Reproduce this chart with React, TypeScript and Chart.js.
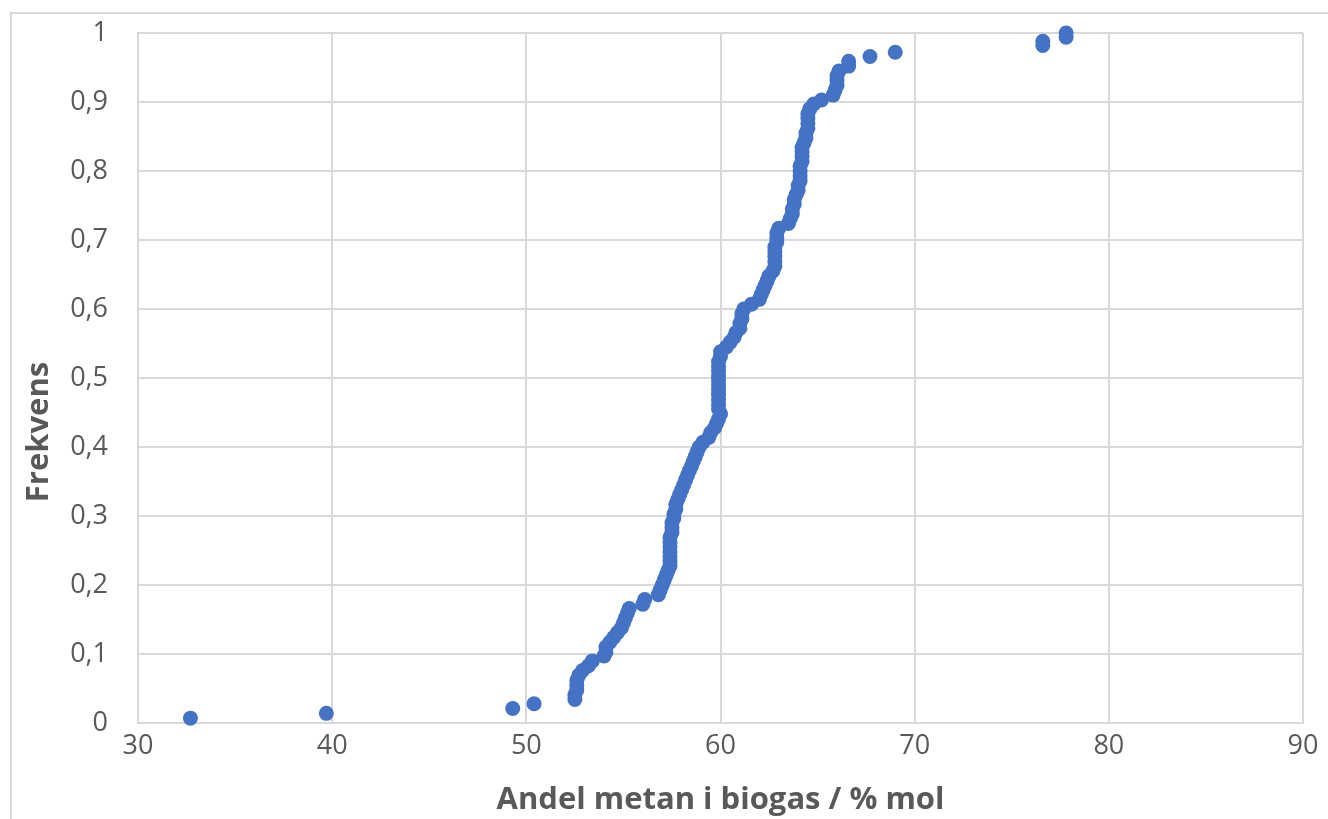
import React, { useEffect, useRef } from "react";
import { Chart, registerables } from "chart.js";

Chart.register(...registerables);

// Methane share in biogas (% mol), sorted ascending
const metanAndel: number[] = [
  32.7, 39.7, 49.3, 50.4, 52.5, 52.5, 52.6, 52.6, 52.6, 52.7,
  52.9, 53.2, 53.4, 54.0, 54.1, 54.1, 54.3, 54.5, 54.7, 54.9,
  55.0, 55.1, 55.2, 55.3, 56.0, 56.1, 56.8, 56.9, 57.0, 57.1,
  57.2, 57.3, 57.4, 57.4, 57.4, 57.4, 57.4, 57.4, 57.4, 57.5,
  57.5, 57.5, 57.6, 57.6, 57.7, 57.7, 57.8, 57.9, 58.0, 58.1,
  58.2, 58.3, 58.4, 58.5, 58.6, 58.7, 58.8, 58.9, 59.1, 59.4,
  59.5, 59.7, 59.8, 59.9, 60.0, 59.9, 59.9, 59.9, 59.9, 59.9,
  59.9, 59.9, 59.9, 59.9, 59.9, 59.9, 60.0, 60.0, 60.3, 60.5,
  60.7, 60.8, 61.0, 61.0, 61.1, 61.1, 61.2, 61.6, 62.0, 62.1,
  62.2, 62.3, 62.4, 62.5, 62.7, 62.8, 62.8, 62.8, 62.8, 62.8,
  62.9, 62.9, 62.9, 63.0, 63.5, 63.6, 63.7, 63.7, 63.8, 63.8,
  63.9, 64.0, 64.0, 64.1, 64.1, 64.1, 64.1, 64.2, 64.2, 64.2,
  64.2, 64.3, 64.4, 64.4, 64.5, 64.5, 64.5, 64.5, 64.6, 64.8,
  65.2, 65.8, 65.9, 66.0, 66.0, 66.0, 66.1, 66.6, 66.6, 67.7,
  69.0, 76.6, 76.6, 77.8, 77.8,
];

// Cumulative frequency for each sorted value
const frekvens: number[] = [
  0.007, 0.014, 0.021, 0.028, 0.034, 0.041, 0.048, 0.055, 0.062, 0.069,
  0.076, 0.083, 0.090, 0.097, 0.103, 0.110, 0.117, 0.124, 0.131, 0.138,
  0.145, 0.152, 0.159, 0.166, 0.172, 0.179, 0.186, 0.193, 0.200, 0.207,
  0.214, 0.221, 0.228, 0.234, 0.241, 0.248, 0.255, 0.262, 0.269, 0.276,
  0.283, 0.290, 0.297, 0.303, 0.310, 0.317, 0.324, 0.331, 0.338, 0.345,
  0.352, 0.359, 0.366, 0.372, 0.379, 0.386, 0.393, 0.400, 0.407, 0.414,
  0.421, 0.428, 0.434, 0.441, 0.448, 0.455, 0.462, 0.469, 0.476, 0.483,
  0.490, 0.497, 0.503, 0.510, 0.517, 0.524, 0.531, 0.538, 0.545, 0.552,
  0.559, 0.566, 0.572, 0.579, 0.586, 0.593, 0.600, 0.607, 0.614, 0.621,
  0.628, 0.634, 0.641, 0.648, 0.655, 0.662, 0.669, 0.676, 0.683, 0.690,
  0.697, 0.703, 0.710, 0.717, 0.724, 0.731, 0.738, 0.745, 0.752, 0.759,
  0.766, 0.772, 0.779, 0.786, 0.793, 0.800, 0.807, 0.814, 0.821, 0.828,
  0.834, 0.841, 0.848, 0.855, 0.862, 0.869, 0.876, 0.883, 0.890, 0.897,
  0.903, 0.910, 0.917, 0.924, 0.931, 0.938, 0.945, 0.952, 0.959, 0.966,
  0.972, 0.982, 0.988, 0.994, 1.000,
];

const xTitle = "Andel metan i biogas / % mol";
const yTitle = "Frekvens";

const TEXT = "#595959";
const GRID = "#d9d9d9";
const MARK = "#4472C4";
const FONT = "'Open Sans', sans-serif";

const W = 1328;
const H = 819;

// Axis titles placed the way the office chart lays them out
const titlesPlugin = {
  id: "axisTitles",
  afterDraw(chart: Chart) {
    const ctx = chart.ctx;
    const area = chart.chartArea;
    ctx.save();
    ctx.fillStyle = TEXT;
    ctx.font = `bold 31px ${FONT}`;
    ctx.textAlign = "center";
    ctx.textBaseline = "middle";
    ctx.fillText(xTitle, (area.left + area.right) / 2, 800);
    ctx.translate(39, 432);
    ctx.rotate(-Math.PI / 2);
    ctx.fillText(yTitle, 0, 0);
    ctx.restore();
  },
};

export default function App() {
  const ref = useRef<HTMLCanvasElement | null>(null);

  useEffect(() => {
    if (!ref.current) return;
    const points = metanAndel.map((x, i) => ({ x, y: frekvens[i] }));
    const chart = new Chart(ref.current, {
      type: "scatter",
      data: {
        datasets: [
          {
            data: points,
            backgroundColor: MARK,
            borderColor: MARK,
            borderWidth: 0,
            pointRadius: 7.5,
            clip: false,
          },
        ],
      },
      options: {
        animation: false,
        responsive: false,
        maintainAspectRatio: false,
        layout: { padding: { left: 0, top: 33, right: 25, bottom: 0 } },
        plugins: {
          legend: { display: false },
          tooltip: { enabled: false },
        },
        scales: {
          x: {
            type: "linear",
            min: 30,
            max: 90,
            ticks: {
              stepSize: 10,
              color: TEXT,
              font: { family: FONT, size: 27 },
              padding: 7,
            },
            grid: { color: GRID, lineWidth: 2, drawTicks: false },
            border: { color: GRID, width: 2 },
            afterFit(scale: any) {
              scale.height = H - 723;
              scale.paddingLeft = 0;
              scale.paddingRight = 0;
            },
          },
          y: {
            type: "linear",
            min: 0,
            max: 1,
            ticks: {
              stepSize: 0.1,
              color: TEXT,
              font: { family: FONT, size: 27 },
              padding: 30,
              callback: (v: any) =>
                String(Math.round(Number(v) * 10) / 10).replace(".", ","),
            },
            grid: { color: GRID, lineWidth: 2, drawTicks: false },
            border: { color: GRID, width: 2 },
            afterFit(scale: any) {
              scale.width = 138;
              scale.paddingTop = 0;
              scale.paddingBottom = 0;
            },
          },
        },
      },
      plugins: [titlesPlugin],
    });
    return () => chart.destroy();
  }, []);

  return (
    <div
      style={{
        position: "absolute",
        left: 0,
        top: 0,
        width: W,
        height: H,
        background: "#fff",
        overflow: "hidden",
      }}
    >
      <div
        style={{
          position: "absolute",
          left: 10,
          top: 12,
          width: W + 20,
          height: H + 20,
          border: `2px solid ${GRID}`,
          boxSizing: "border-box",
        }}
      />
      <canvas
        ref={ref}
        width={W}
        height={H}
        style={{ position: "absolute", left: 0, top: 0 }}
      />
    </div>
  );
}
